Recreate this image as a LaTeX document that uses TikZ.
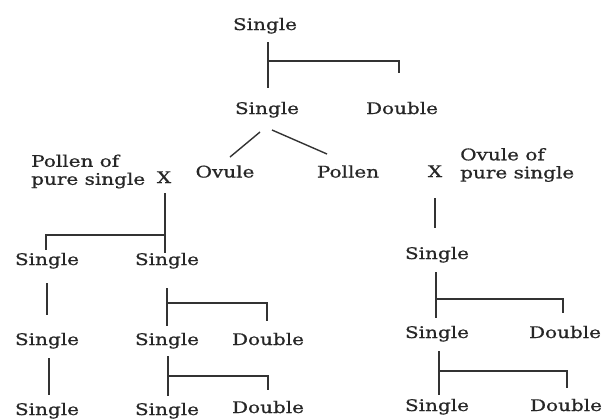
\documentclass[tikz,border=0pt]{standalone}
\usepackage{fontspec}
\setmainfont{DejaVu Serif}[FakeStretch=1.25,FakeBold=0.8]
\begin{document}
\begin{tikzpicture}[x=1pt,y=-1pt,
  lbl/.style={inner sep=0pt,anchor=base,text=black!85,font=\fontsize{16}{18}\selectfont},
  mlbl/.style={inner sep=0pt,anchor=west,align=left,text=black!85,font=\fontsize{16}{18}\selectfont},
  conn/.style={draw=black!80,line width=1.4pt}]
\useasboundingbox (0,0) rectangle (605,418);
% nodes
\node[lbl] (t1) at (265,30) {Single};
\node[lbl] (s2) at (267,114) {Single};
\node[lbl] (d2) at (402,114) {Double};
\node[lbl] (ov) at (225,177.5) {Ovule};
\node[lbl] (po) at (348,177.5) {Pollen};
\node[lbl] (x1) at (164,183) {X};
\node[lbl] (x2) at (435,177) {X};
\node[mlbl] (pl) at (31,171.5) {Pollen of\\pure single};
\node[mlbl] (ol) at (460,165) {Ovule of\\pure single};
\node[lbl] (a1) at (47,265) {Single};
\node[lbl] (b1) at (167,265) {Single};
\node[lbl] (c1) at (437,259) {Single};
\node[lbl] (a2) at (47,345) {Single};
\node[lbl] (b2) at (167,345) {Single};
\node[lbl] (bd2) at (268,345) {Double};
\node[lbl] (c2) at (437,338) {Single};
\node[lbl] (cd2) at (565,338) {Double};
\node[lbl] (a3) at (47,415) {Single};
\node[lbl] (b3) at (167,415) {Single};
\node[lbl] (bd3) at (268,413) {Double};
\node[lbl] (c3) at (437,411) {Single};
\node[lbl] (cd3) at (566,411) {Double};
% branch points and free ends
\coordinate (j1) at (268,61);  \coordinate (e1) at (399,73);
\coordinate (j3) at (165,235); \coordinate (e3) at (46,250);
\coordinate (j6) at (167,303); \coordinate (e6) at (267,321);
\coordinate (j7) at (168,376); \coordinate (e7) at (268,390);
\coordinate (j8) at (436,299); \coordinate (e8) at (563,313);
\coordinate (j9) at (439,371); \coordinate (e9) at (567,388);
% connectors
\draw[conn] ([xshift=3pt,yshift=-12pt]t1.base) -- ([xshift=1pt,yshift=26pt]s2.base);
\draw[conn] (j1) -| (e1);
\draw[conn] ([xshift=-7pt,yshift=-18pt]s2.base) -- ([xshift=5pt,yshift=20.5pt]ov.base);
\draw[conn] ([xshift=5pt,yshift=-16pt]s2.base) -- ([xshift=-21pt,yshift=23.5pt]po.base);
\draw[conn] ([xshift=1pt,yshift=-10pt]x1.base) -- ([xshift=-2pt,yshift=12pt]b1.base);
\draw[conn] (j3) -| (e3);
\draw[conn] ([yshift=-21pt]x2.base) -- ([xshift=-2pt,yshift=31pt]c1.base);
\draw[conn] ([yshift=-18pt]a1.base) -- ([yshift=30pt]a2.base);
\draw[conn] ([xshift=2pt,yshift=-13pt]a2.base) -- ([xshift=2pt,yshift=20pt]a3.base);
\draw[conn] ([yshift=-23pt]b1.base) -- ([yshift=19pt]b2.base);
\draw[conn] (j6) -| (e6);
\draw[conn] ([xshift=1pt,yshift=-11pt]b2.base) -- ([xshift=1pt,yshift=19pt]b3.base);
\draw[conn] (j7) -| (e7);
\draw[conn] ([xshift=-1pt,yshift=-13pt]c1.base) -- ([xshift=-1pt,yshift=20pt]c2.base);
\draw[conn] (j8) -| (e8);
\draw[conn] ([xshift=2pt,yshift=-13pt]c2.base) -- ([xshift=2pt,yshift=16pt]c3.base);
\draw[conn] (j9) -| (e9);
\end{tikzpicture}
\end{document}
